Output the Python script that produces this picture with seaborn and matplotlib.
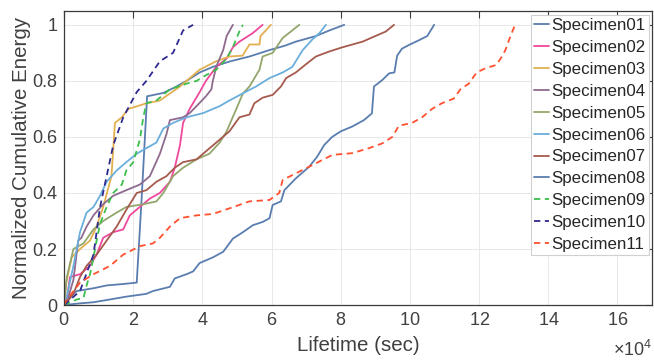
import numpy as np
import pandas as pd
import matplotlib
matplotlib.use("Agg")
import matplotlib.pyplot as plt
import seaborn as sns
from matplotlib.lines import Line2D
from matplotlib.ticker import ScalarFormatter

# Lifetime values in units of 1e4 s, normalized cumulative energy (0..1)
s01_t = [0, 0.08, 0.37, 0.85, 1.23, 1.7, 2.1, 2.24, 2.4, 2.87, 3.25, 3.54, 3.92, 4.3, 4.78, 5.36, 5.94, 6.37, 6.7, 7.28, 7.67, 8.1]
s01_e = [0, 0.02, 0.05, 0.06, 0.07, 0.075, 0.08, 0.375, 0.745, 0.757, 0.78, 0.80, 0.83, 0.85, 0.869, 0.887, 0.91, 0.925, 0.94, 0.96, 0.98, 1.0]

s02_t = [0, 0.08, 0.17, 0.46, 0.75, 0.94, 1.13, 1.42, 1.71, 1.9, 2.19, 2.48, 2.77, 3.06, 3.2, 3.35, 3.44, 3.63, 3.92, 4.1, 4.4, 4.7, 4.88, 5.07, 5.45, 5.74]
s02_e = [0, 0.02, 0.10, 0.11, 0.14, 0.18, 0.24, 0.26, 0.27, 0.32, 0.35, 0.38, 0.40, 0.44, 0.49, 0.57, 0.65, 0.70, 0.76, 0.80, 0.85, 0.88, 0.92, 0.94, 0.97, 1.0]

s03_t = [0, 0.06, 0.22, 0.46, 0.75, 0.94, 1.13, 1.37, 1.47, 1.67, 1.86, 2.38, 2.77, 3.35, 3.92, 4.4, 4.78, 5.16, 5.36, 5.65, 5.68, 5.98]
s03_e = [0, 0.08, 0.17, 0.20, 0.23, 0.28, 0.35, 0.46, 0.65, 0.67, 0.70, 0.72, 0.73, 0.78, 0.84, 0.87, 0.887, 0.89, 0.93, 0.93, 0.96, 1.0]

s04_t = [0, 0.08, 0.27, 0.41, 0.5, 0.65, 0.85, 1.13, 1.42, 1.8, 2.19, 2.48, 2.77, 2.96, 3.06, 3.44, 3.63, 3.83, 4.1, 4.26, 4.3, 4.4, 4.6, 4.7, 4.88]
s04_e = [0, 0.01, 0.09, 0.23, 0.24, 0.28, 0.32, 0.36, 0.39, 0.41, 0.43, 0.46, 0.54, 0.61, 0.66, 0.67, 0.685, 0.71, 0.745, 0.77, 0.80, 0.85, 0.91, 0.96, 1.0]

s05_t = [0, 0.08, 0.27, 0.56, 0.85, 1.13, 1.52, 1.8, 2.3, 2.67, 2.87, 3.15, 3.44, 3.83, 4.2, 4.5, 4.7, 4.98, 5.17, 5.36, 5.65, 5.74, 6.03, 6.32, 6.8]
s05_e = [0, 0.10, 0.20, 0.22, 0.27, 0.30, 0.33, 0.35, 0.36, 0.37, 0.40, 0.46, 0.49, 0.52, 0.54, 0.58, 0.62, 0.70, 0.755, 0.78, 0.84, 0.887, 0.90, 0.953, 1.0]

s06_t = [0, 0.06, 0.27, 0.46, 0.65, 0.85, 1.04, 1.23, 1.52, 1.8, 2.1, 2.38, 2.67, 2.87, 3.15, 3.54, 4.02, 4.5, 4.78, 5.16, 5.55, 5.94, 6.32, 6.6, 6.9, 7.18, 7.38, 7.57]
s06_e = [0, 0.02, 0.14, 0.26, 0.33, 0.35, 0.39, 0.44, 0.48, 0.51, 0.54, 0.56, 0.58, 0.63, 0.65, 0.67, 0.685, 0.71, 0.73, 0.755, 0.78, 0.81, 0.83, 0.85, 0.91, 0.948, 0.97, 1.0]

s07_t = [0, 0.08, 0.27, 0.46, 0.65, 0.94, 1.23, 1.52, 1.8, 2.1, 2.38, 2.67, 2.96, 3.2, 3.44, 3.83, 4.02, 4.4, 4.78, 5.07, 5.36, 5.5, 5.74, 6.03, 6.27, 6.42, 6.7, 7.0, 7.28, 7.67, 8.05, 8.63, 9.0, 9.3, 9.54]
s07_e = [0, 0.01, 0.04, 0.10, 0.14, 0.18, 0.23, 0.28, 0.34, 0.40, 0.41, 0.44, 0.46, 0.49, 0.51, 0.52, 0.54, 0.58, 0.62, 0.67, 0.68, 0.72, 0.74, 0.75, 0.78, 0.81, 0.83, 0.86, 0.887, 0.905, 0.92, 0.94, 0.96, 0.976, 1.0]

s08_t = [0, 0.37, 0.85, 1.33, 1.8, 2.38, 2.57, 3.06, 3.2, 3.54, 3.73, 3.92, 4.3, 4.6, 4.88, 5.17, 5.46, 5.75, 5.94, 6.03, 6.27, 6.37, 6.7, 7.09, 7.32, 7.52, 7.75, 8.0, 8.33, 8.67, 8.9, 8.96, 9.2, 9.4, 9.55, 9.63, 9.77, 10.0, 10.26, 10.5, 10.7]
s08_e = [0, 0.005, 0.01, 0.02, 0.03, 0.04, 0.05, 0.065, 0.095, 0.11, 0.12, 0.15, 0.17, 0.19, 0.237, 0.26, 0.285, 0.297, 0.31, 0.357, 0.37, 0.41, 0.452, 0.494, 0.53, 0.571, 0.60, 0.62, 0.637, 0.66, 0.684, 0.78, 0.803, 0.827, 0.83, 0.89, 0.915, 0.93, 0.945, 0.96, 1.0]

s09_t = [0, 0.37, 0.56, 0.65, 0.75, 0.85, 0.94, 1.04, 1.23, 1.42, 1.67, 1.8, 2.0, 2.19, 2.29, 2.38, 2.67, 3.06, 3.54, 3.83, 4.1, 4.4, 4.7, 4.88, 5.08, 5.17]
s09_e = [0, 0.02, 0.025, 0.07, 0.11, 0.17, 0.23, 0.29, 0.35, 0.40, 0.43, 0.48, 0.51, 0.59, 0.67, 0.72, 0.73, 0.77, 0.79, 0.80, 0.82, 0.84, 0.88, 0.92, 0.98, 1.0]

s10_t = [0, 0.46, 0.85, 1.04, 1.23, 1.42, 1.71, 2.1, 2.38, 2.77, 3.15, 3.44, 3.73]
s10_e = [0, 0.05, 0.18, 0.35, 0.46, 0.57, 0.67, 0.76, 0.80, 0.87, 0.90, 0.98, 1.0]

s11_t = [0, 0.08, 0.46, 0.85, 1.33, 1.71, 2.19, 2.57, 2.77, 3.06, 3.35, 3.83, 4.3, 4.78, 5.36, 5.94, 6.22, 6.32, 6.7, 7.09, 7.47, 7.76, 8.33, 8.82, 9.2, 9.49, 9.68, 10.06, 10.35, 10.64, 10.92, 11.27, 11.46, 11.7, 11.93, 12.18, 12.5, 12.66, 12.76, 12.9, 13.04]
s11_e = [0, 0.02, 0.08, 0.11, 0.14, 0.18, 0.21, 0.22, 0.24, 0.28, 0.31, 0.32, 0.325, 0.345, 0.37, 0.375, 0.40, 0.446, 0.47, 0.494, 0.518, 0.536, 0.542, 0.56, 0.577, 0.60, 0.64, 0.65, 0.67, 0.70, 0.72, 0.737, 0.77, 0.79, 0.83, 0.845, 0.857, 0.887, 0.91, 0.958, 1.0]

specimens = ["Specimen01", "Specimen02", "Specimen03", "Specimen04", "Specimen05", "Specimen06",
             "Specimen07", "Specimen08", "Specimen09", "Specimen10", "Specimen11"]
times = [s01_t, s02_t, s03_t, s04_t, s05_t, s06_t, s07_t, s08_t, s09_t, s10_t, s11_t]
energies = [s01_e, s02_e, s03_e, s04_e, s05_e, s06_e, s07_e, s08_e, s09_e, s10_e, s11_e]

colors = ["#5A7DB0", "#F0489C", "#E2B050", "#8E6A8E", "#93A66C", "#6AAEDC",
          "#A65A4E", "#5A7DB0", "#3CBE4C", "#2E2A8E", "#FF5030"]
dashed = [False] * 8 + [True] * 3

frames = []
for name, t, e in zip(specimens, times, energies):
    frames.append(pd.DataFrame({"Lifetime": np.asarray(t) * 1e4,
                                "Energy": e,
                                "Specimen": name}))
df = pd.concat(frames, ignore_index=True)

sns.set_theme(style="white")
plt.rcParams["font.family"] = ["Liberation Sans", "DejaVu Sans"]
plt.rcParams["mathtext.fontset"] = "custom"
plt.rcParams["mathtext.rm"] = "Liberation Sans"
plt.rcParams["mathtext.it"] = "Liberation Sans"

text_col = "#404040"
fig = plt.figure(figsize=(6.54, 3.61), dpi=100)
ax = fig.add_axes([0.098, 0.155, 0.899, 0.815])

palette = dict(zip(specimens, colors))
dash_map = {n: ((3.5, 2.5) if d else "") for n, d in zip(specimens, dashed)}

sns.lineplot(data=df, x="Lifetime", y="Energy", hue="Specimen", style="Specimen",
             palette=palette, dashes=dash_map, sort=False, estimator=None,
             linewidth=1.3, legend=False, ax=ax)

ax.set_xlim(0, 17e4)
ax.set_ylim(0, 1.05)
ax.set_xticks(np.arange(0, 17e4, 2e4))
ax.set_yticks([0, 0.2, 0.4, 0.6, 0.8, 1.0])
ax.set_yticklabels(["0", "0.2", "0.4", "0.6", "0.8", "1"])

# tick labels in units of 1e4; the exponent is written separately below the axis end
fmt = ScalarFormatter(useMathText=True)
fmt.set_powerlimits((4, 4))
ax.xaxis.set_major_formatter(fmt)
ax.xaxis.get_offset_text().set_visible(False)
fig.text(652 / 654, 1 - 356 / 361, r"$\times$10$^{4}$", ha="right", va="baseline",
         fontsize=13, color=text_col)

ax.grid(True, color="#e8e8e8", linewidth=0.7)
for sp in ax.spines.values():
    sp.set_color("#3a3a3a")
    sp.set_linewidth(0.9)
ax.tick_params(direction="in", length=5, width=0.8, top=True, right=True,
               labelsize=13, colors="#3a3a3a", labelcolor=text_col, pad=5)

ax.set_xlabel("Lifetime (sec)", fontsize=14.8, color=text_col, labelpad=5)
ax.set_ylabel("Normalized Cumulative Energy", fontsize=14.8, color=text_col, labelpad=1)

handles = [Line2D([0], [0], color=c, lw=1.3, linestyle=((0, (3.5, 2.5)) if d else "-"))
           for c, d in zip(colors, dashed)]
leg = ax.legend(handles, specimens, loc="upper right", bbox_to_anchor=(0.994, 0.985),
                fontsize=12.2, frameon=True, fancybox=False, framealpha=1,
                edgecolor="#d0d0d0", handlelength=0.9, handletextpad=0.15,
                labelspacing=0.41, borderpad=0.15, borderaxespad=0.0)
leg.get_frame().set_linewidth(0.8)
for txt in leg.get_texts():
    txt.set_color("#262626")

fig.savefig("out.png", dpi=100)
